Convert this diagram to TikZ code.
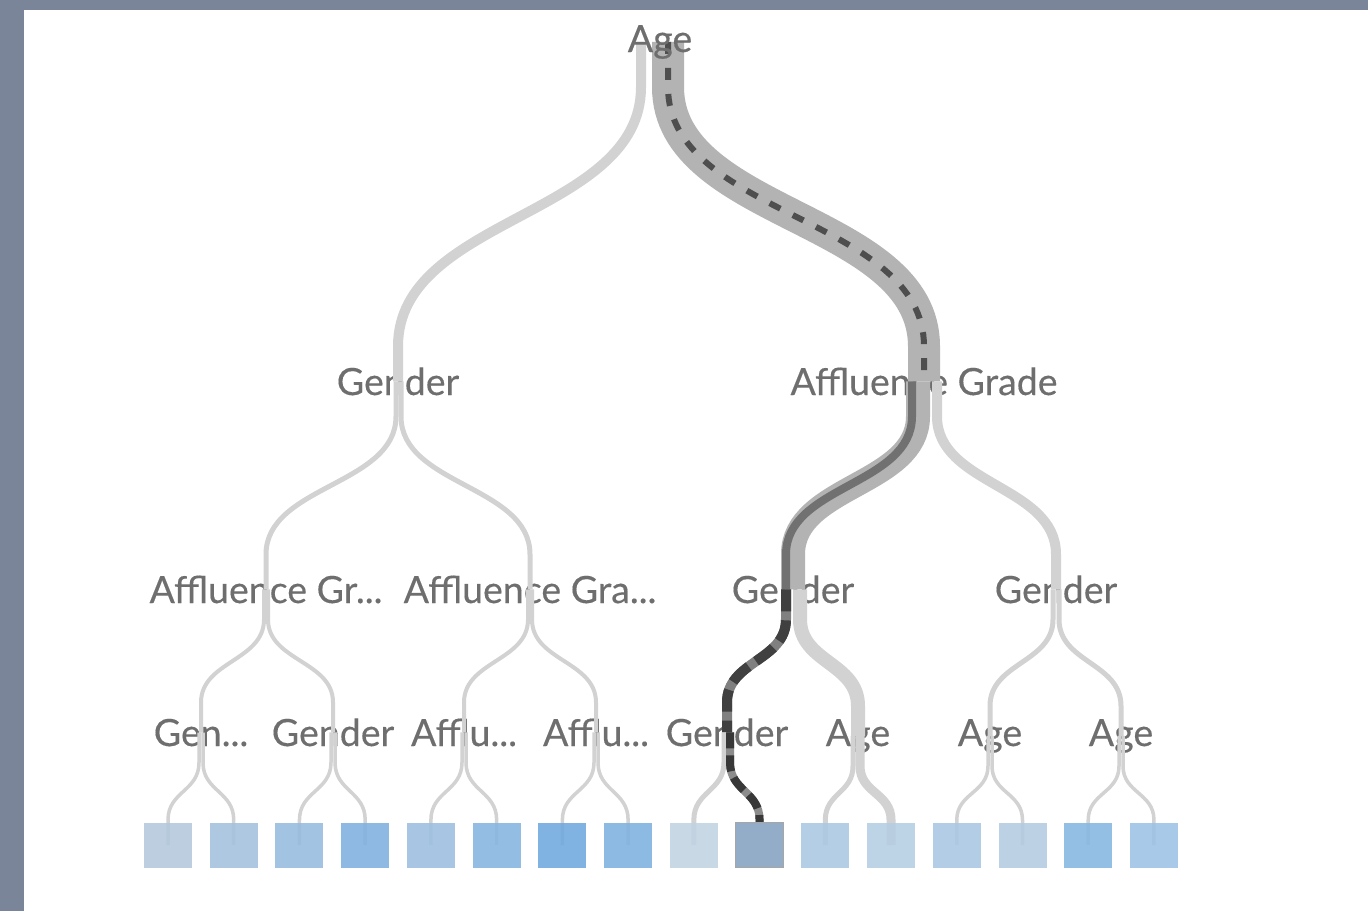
\documentclass[tikz,border=0pt]{standalone}
\usepackage{fontspec}
\setmainfont{Lato}[FakeBold=0.3]
\usetikzlibrary{calc}

\definecolor{framecol}{HTML}{7B859A}
\definecolor{labelcol}{HTML}{6E6E6E}
\definecolor{linkcol}{HTML}{D2D2D2}
\definecolor{bandcol}{HTML}{B3B3B3}
\definecolor{pathcol}{HTML}{4E4E4E}

\definecolor{lf1}{HTML}{B3C8DC}
\definecolor{lf2}{HTML}{A3C1DD}
\definecolor{lf3}{HTML}{97BBDF}
\definecolor{lf4}{HTML}{7FB0E0}
\definecolor{lf5}{HTML}{9CBFE0}
\definecolor{lf6}{HTML}{86B5E1}
\definecolor{lf7}{HTML}{6FA8DE}
\definecolor{lf8}{HTML}{7EB1E0}
\definecolor{lf9}{HTML}{C2D3E2}
\definecolor{lf10}{HTML}{93ADC9}
\definecolor{lf11}{HTML}{AAC8E3}
\definecolor{lf12}{HTML}{B5CDE3}
\definecolor{lf13}{HTML}{A9C7E3}
\definecolor{lf14}{HTML}{B3CBE1}
\definecolor{lf15}{HTML}{86B7E2}
\definecolor{lf16}{HTML}{9CC2E5}

% link from parent (offset dx) down to child (offset ex), vertical
% runs of length drop / rise at both ends, an S-curve in between
% #1 style, #2 parent, #3 dx, #4 child, #5 ex, #6 drop, #7 rise
\newcommand\treelink[7]{%
  \coordinate (ls) at ($(#2.center)+(#3,#6)$);
  \coordinate (le) at ($(#4.center)+(#5,-#7)$);
  \coordinate (lm) at ($(ls)!0.5!(le)$);
  \draw[#1] ($(#2.center)+(#3,0)$) -- (ls)
    .. controls (ls|-lm) and (le|-lm) .. (le) -- ($(#4.center)+(#5,0)$);
}

\tikzset{
  lbl/.style={text=labelcol, font=\fontsize{37.5}{44}\selectfont,
    inner sep=0pt, anchor=base},
  leafbox/.style={minimum width=48, minimum height=45, inner sep=0pt,
    draw=none, fill opacity=0.88},
  chosen/.style={draw=black!35, line width=1.5, fill opacity=1},
  lk/.style={draw=linkcol, line width=#1},
  band/.style={draw=bandcol, line width=#1},
}

\begin{document}
\begin{tikzpicture}[x=1pt,y=-1pt]
\useasboundingbox (0,0) rectangle (1368,911);
\fill[white] (0,0) rectangle (1368,911);
\fill[framecol] (0,0) rectangle (1368,10);
\fill[framecol] (0,0) rectangle (24,911);

% labels (the root text is set on top of its links further down)
\node[lbl] (root) at (660,52) {\phantom{Age}};
\node[lbl] (g1) at (398,395) {Gender};
\node[lbl] (a1) at (924,395) {Affluence Grade};
\node[lbl] (l2a) at (266,603) {Affluence Gr...};
\node[lbl] (l2b) at (530,603) {Affluence Gra...};
\node[lbl] (l2c) at (793,603) {Gender};
\node[lbl] (l2d) at (1056,603) {Gender};
\node[lbl] (l3a) at (201,746) {Gen...};
\node[lbl] (l3b) at (333,746) {Gender};
\node[lbl] (l3c) at (464,746) {Afflu...};
\node[lbl] (l3d) at (596,746) {Afflu...};
\node[lbl] (l3e) at (727,746) {Gender};
\node[lbl] (l3f) at (858,746) {Age};
\node[lbl] (l3g) at (990,746) {Age};
\node[lbl] (l3h) at (1121,746) {Age};

% leaf positions
\foreach \i in {1,...,16} {
  \coordinate (leafpos\i) at ({168+65.73*(\i-1)},845);
}

% level 0 -> 1
\treelink{lk=10}{root}{-19}{g1}{0}{45}{35}
\treelink{band=32}{root}{8}{a1}{0}{45}{35}
\treelink{draw=pathcol, line width=6, dash pattern=on 12 off 14}{root}{8}{a1}{0}{45}{35}

% level 1 -> 2
\treelink{lk=5}{g1}{-2}{l2a}{0}{35}{35}
\treelink{lk=5}{g1}{3}{l2b}{0}{35}{35}
\treelink{lk=10}{a1}{13}{l2d}{0}{35}{35}
\treelink{band=24}{a1}{-6}{l2c}{0}{35}{35}
\treelink{draw=pathcol!80, line width=8}{a1}{-12}{l2c}{-7}{35}{35}

% level 2 -> 3
\treelink{lk=4}{l2a}{-2}{l3a}{0}{30}{30}
\treelink{lk=4}{l2a}{2}{l3b}{0}{30}{30}
\treelink{lk=4}{l2b}{-2}{l3c}{0}{30}{30}
\treelink{lk=4}{l2b}{2}{l3d}{0}{30}{30}
\treelink{lk=14}{l2c}{7}{l3f}{0}{30}{30}
\treelink{draw=black!50, line width=10}{l2c}{-7}{l3e}{0}{30}{30}
\treelink{draw=black!75, line width=10, dash pattern=on 22 off 9}{l2c}{-7}{l3e}{0}{30}{30}
\treelink{lk=5}{l2d}{-3}{l3g}{0}{30}{30}
\treelink{lk=5}{l2d}{3}{l3h}{0}{30}{30}

% level 3 -> leaves
\treelink{lk=3.5}{l3a}{-2}{leafpos1}{0}{30}{25}
\treelink{lk=3.5}{l3a}{2}{leafpos2}{0}{30}{25}
\treelink{lk=3.5}{l3b}{-2}{leafpos3}{0}{30}{25}
\treelink{lk=3.5}{l3b}{2}{leafpos4}{0}{30}{25}
\treelink{lk=3.5}{l3c}{-2}{leafpos5}{0}{30}{25}
\treelink{lk=3.5}{l3c}{2}{leafpos6}{0}{30}{25}
\treelink{lk=3.5}{l3d}{-2}{leafpos7}{0}{30}{25}
\treelink{lk=3.5}{l3d}{2}{leafpos8}{0}{30}{25}
\treelink{lk=5}{l3e}{-3}{leafpos9}{0}{30}{25}
\treelink{draw=black!45, line width=8}{l3e}{3}{leafpos10}{0}{30}{25}
\treelink{draw=black!78, line width=8, dash pattern=on 16 off 7}{l3e}{3}{leafpos10}{0}{30}{25}
\treelink{lk=5}{l3f}{-5}{leafpos11}{0}{30}{25}
\treelink{lk=9}{l3f}{2}{leafpos12}{0}{30}{25}
\treelink{lk=3.5}{l3g}{-2}{leafpos13}{0}{30}{25}
\treelink{lk=3.5}{l3g}{2}{leafpos14}{0}{30}{25}
\treelink{lk=3.5}{l3h}{-2}{leafpos15}{0}{30}{25}
\treelink{lk=3.5}{l3h}{2}{leafpos16}{0}{30}{25}

% root text above its links
\node[lbl] (roottext) at (root.base) {Age};

% leaves
\foreach \i in {1,...,16} {
  \ifnum\i=10
    \node[leafbox, chosen, fill=lf\i] (leaf\i) at (leafpos\i) {};
  \else
    \node[leafbox, fill=lf\i] (leaf\i) at (leafpos\i) {};
  \fi
}
\end{tikzpicture}
\end{document}
